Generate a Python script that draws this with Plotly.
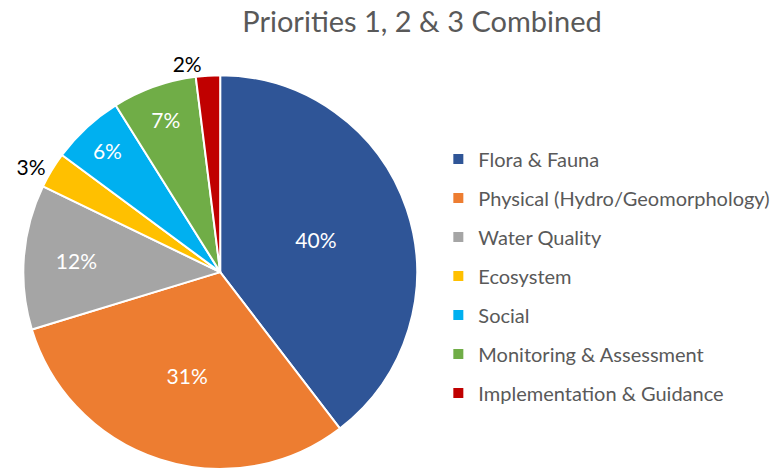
import plotly.graph_objects as go

labels = ["Flora & Fauna", "Physical (Hydro/Geomorphology)", "Water Quality",
          "Ecosystem", "Social", "Monitoring & Assessment", "Implementation & Guidance"]
values = [40, 31, 12, 3, 6, 7, 2]
colors = ["#2F5597", "#ED7D31", "#A5A5A5", "#FFC000", "#00B0F0", "#70AD47", "#C00000"]
text_pos = ["inside", "inside", "inside", "outside", "inside", "inside", "outside"]

# the html page has an 8px body margin, so the figure is a bit smaller than the window
OFF = 8
W, H = 781 - OFF, 474 - OFF
font = "Lato"


def px(x):
    return (x - OFF) / W


def py_(y):
    # y measured from the top of the window
    return 1 - (y - OFF) / H


fig = go.Figure()
fig.add_trace(go.Pie(
    labels=labels, values=values, sort=False, direction="clockwise", rotation=0,
    marker=dict(colors=colors, line=dict(color="white", width=2)),
    textinfo="percent", texttemplate="%{percent:.0%}",
    textposition=text_pos,
    insidetextfont=dict(color="white", size=21, family=font),
    outsidetextfont=dict(color="black", size=21, family=font),
    insidetextorientation="horizontal",
    showlegend=False, hoverinfo="label+percent",
    domain=dict(x=[px(19), px(417)], y=[py_(474), py_(76)]),
))

# legend entries (one group per category so the rows get spaced out)
for lab, col in zip(labels, colors):
    fig.add_trace(go.Scatter(
        x=[None], y=[None], mode="markers", name=lab, legendgroup=lab,
        marker=dict(symbol="square", size=10, color=col),
    ))

fig.update_layout(
    width=W, height=H,
    margin=dict(l=0, r=0, t=0, b=0),
    paper_bgcolor="white", plot_bgcolor="white",
    title=dict(text="Priorities 1, 2 & 3 Combined", x=px(422), xanchor="center",
               y=py_(12), yanchor="top", pad=dict(t=0, b=0),
               font=dict(family=font, size=29, color="#595959")),
    xaxis=dict(visible=False), yaxis=dict(visible=False),
    legend=dict(x=px(437), xanchor="left", y=py_(141), yanchor="top",
                traceorder="grouped", tracegroupgap=10,
                font=dict(family=font, size=20, color="#595959"),
                bgcolor="rgba(0,0,0,0)"),
)

fig.write_html("out.html")
